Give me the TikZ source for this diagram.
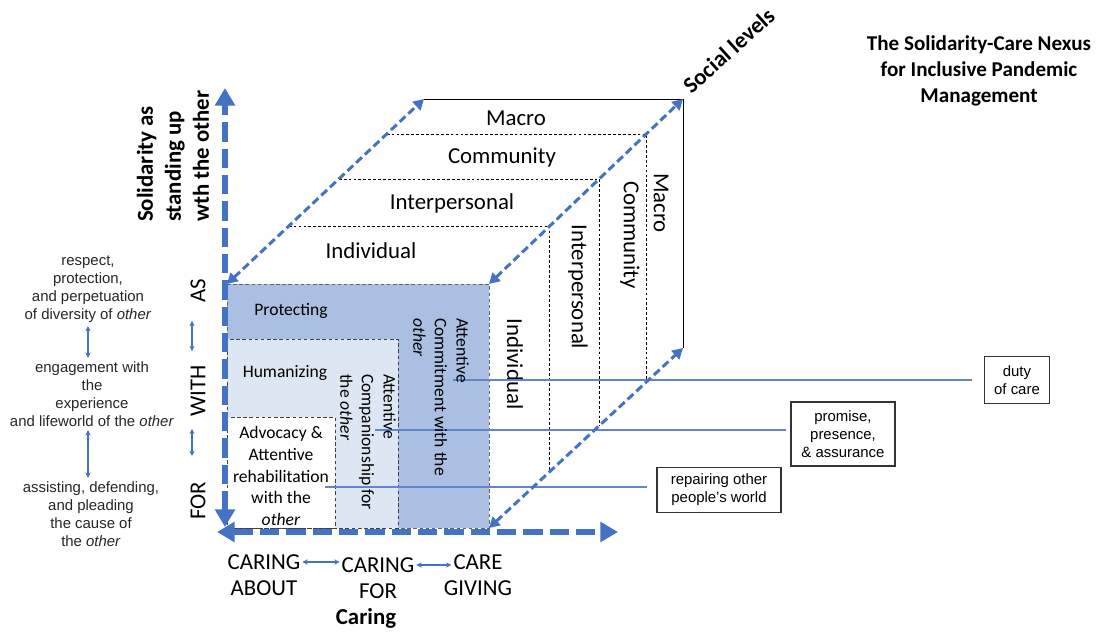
\documentclass[tikz,border=0pt]{standalone}
\usepackage{fontspec}
\setmainfont{Carlito}
\newfontfamily\arialfont{Liberation Sans}
\usetikzlibrary{arrows.meta,calc}

\definecolor{axisblue}{HTML}{4472C4}
\definecolor{darkfill}{HTML}{ABBFE2}
\definecolor{lightfill}{HTML}{DDE7F4}

\begin{document}
\begin{tikzpicture}[x=0.02cm,y=-0.02cm,
        bigaxis/.style={axisblue, line width=3.4pt, dash pattern=on 11pt off 4pt,
            {Triangle[length=10pt,width=11pt]}-{Triangle[length=10pt,width=11pt]}},
        diagaxis/.style={axisblue, line width=1.7pt, dash pattern=on 4.5pt off 2.3pt,
            {Triangle[length=6pt,width=6.5pt]}-{Triangle[length=6pt,width=6.5pt]}},
        slab/.style={black, line width=0.5pt, dash pattern=on 1.6pt off 1.2pt},
        facedash/.style={black!60, line width=0.5pt, dash pattern=on 2pt off 1.5pt},
        smallarrow/.style={axisblue, line width=0.6pt, {Stealth[length=3pt,width=3pt]}-{Stealth[length=3pt,width=3pt]}},
        callout/.style={axisblue!85, line width=0.7pt},
        callbox/.style={draw=black!80, line width=0.6pt, align=center, inner sep=1pt,
            font=\arialfont\fontsize{8.5}{10.2}\selectfont},
        level/.style={font=\fontsize{13}{15.6}\selectfont, inner sep=1pt},
        front/.style={font=\fontsize{10}{12.3}\selectfont, inner sep=1pt, align=center},
        sidenote/.style={font=\arialfont\fontsize{8.5}{10.2}\selectfont, text=black!85, align=center, inner sep=1pt},
        heading/.style={font=\bfseries\fontsize{13}{15.9}\selectfont, inner sep=1pt}
    ]
    \useasboundingbox (0,0) rectangle (1107,634);

    % cube corners
    \coordinate (ftl) at (227,284);
    \coordinate (ftr) at (489,284);
    \coordinate (fbr) at (489,528);
    \coordinate (btl) at (424,99);
    \coordinate (btr) at (683,99);
    \coordinate (bbr) at (683,348);

    % back outline (Macro) and the dashed levels in between
    \draw[black, line width=0.45pt] (btl) -- (btr) -- (bbr);
    \foreach \t in {0.3135,0.5676,0.8108}
        \draw[slab] ($(ftl)!\t!(btl)$) -- ($(ftr)!\t!(btr)$) -- ($(fbr)!\t!(bbr)$);

    % front face
    \coordinate (hum) at (227,339);
    \coordinate (comp) at (398,528);
    \coordinate (adv) at (227,417);
    \coordinate (advr) at (335,528);
    \fill[darkfill] (ftl) rectangle (fbr);
    \draw[facedash] (ftl) rectangle (fbr);
    \fill[lightfill] (hum) rectangle (comp);
    \draw[facedash, black!75] (hum) rectangle (comp);
    \fill[white] (adv) rectangle (advr);
    \draw[facedash, black!75] (adv) rectangle (advr);

    % level labels
    \node[level] (macro) at (516,118) {Macro};
    \node[level] (comm) at (502,157) {Community};
    \node[level] (inter) at (452,203) {Interpersonal};
    \node[level] (indiv) at (371,251) {Individual};
    \node[level, rotate=-90] (macrov) at (661,203) {Macro};
    \node[level, rotate=-90] (commv) at (630,235) {Community};
    \node[level, rotate=-90] (interv) at (578,287) {Interpersonal};
    \node[level, rotate=-90] (indivv) at (515,364) {Individual};

    % callout lines to the boxes
    \coordinate (c1) at (453,380);
    \coordinate (c2) at (375,430);
    \coordinate (c3) at (325,487);
    \node[callbox, minimum width=1.3cm, minimum height=0.94cm] (duty) at (1017,380) {duty\\of care};
    \node[callbox, minimum width=2.08cm, minimum height=1.28cm] (promise) at (843,434) {promise,\\presence,\\\& assurance};
    \node[callbox, minimum width=2.48cm, minimum height=0.9cm] (repair) at (719,490) {repairing other\\people’s world};
    \draw[callout, shorten >=0.24cm] (c1) -- (c1 -| duty.west);
    \draw[callout, shorten >=0.08cm] (c2) -- (c2 -| promise.west);
    \draw[callout, shorten >=0.18cm] (c3) -- (c3 -| repair.west);

    % front face texts
    \node[front] (prot) at (291,311) {Protecting};
    \node[front] (human) at (285,373) {Humanizing};
    \node[front] (advoc) at (281,476) {Advocacy \&\\Attentive\\rehabilitation\\with the\\\textit{other}};
    \node[front, align=left, rotate=-90, anchor=west] (commit) at (441,316)
        {Attentive\\Commitment with the\\\textit{other}};
    \node[front, align=left, rotate=-90, anchor=west] (compan) at (368,372)
        {Attentive\\Companionship for\\the \textit{other}};

    % diagonal axes (social levels)
    \draw[diagaxis] (ftl) -- (btl);
    \draw[diagaxis] (ftr) -- (btr);
    \draw[diagaxis] (fbr) -- (bbr);
    \node[heading, rotate=42, anchor=base west] (social) at (690,96) {Social levels};

    % main axes
    \coordinate (vtop) at (225,88);
    \coordinate (vbot) at (225,527);
    \coordinate (hleft) at (217,532);
    \coordinate (hright) at (618,532);
    \draw[bigaxis] (vbot) -- (vtop);
    \draw[bigaxis] (hleft) -- (hright);

    % solidarity axis
    \node[heading, rotate=90, align=left, anchor=west] (solid) at (173,224)
        {Solidarity as\\standing up\\wth the other};
    \node[level, rotate=90] (as) at (198,291) {AS};
    \node[level, rotate=90] (with) at (198,391) {WITH};
    \node[level, rotate=90] (for) at (198,501) {FOR};
    \draw[smallarrow] ($(as.west)+(-6,16)$) -- ($(with.east)+(-6,-12)$);
    \draw[smallarrow] ($(with.west)+(-6,10)$) -- ($(for.east)+(-6,-24)$);

    \node[sidenote] (respect) at (88,289) {respect,\\protection,\\and perpetuation\\of diversity of \textit{other}};
    \node[sidenote] (engage) at (92,394) {engagement with\\the\\experience\\and lifeworld of the \textit{other}};
    \node[sidenote] (assist) at (91,514) {assisting, defending,\\and pleading\\the cause of\\the \textit{other}};
    \draw[smallarrow, shorten <=1pt, shorten >=1pt] (respect.south) -- (respect.south |- engage.north);
    \draw[smallarrow, shorten <=1pt, shorten >=1pt] (engage.south -| respect.south) -- (respect.south |- assist.north);

    % caring axis
    \node[level] (ab1) at (264,562) {CARING};
    \node[level] (ab2) at (264,588) {ABOUT};
    \node[level] (fo1) at (378,565) {CARING};
    \node[level] (fo2) at (378,591) {FOR};
    \node[level] (gi1) at (478,562) {CARE};
    \node[level] (gi2) at (478,588) {GIVING};
    \draw[smallarrow] (ab1.east) -- (ab1.east -| fo1.west);
    \draw[smallarrow] (fo1.east) -- (fo1.east -| gi1.west);
    \node[heading] (caring) at (366,618) {Caring};

    % title
    \node[heading, font=\bfseries\fontsize{12}{15}\selectfont, align=center] (title) at (979,71)
        {The Solidarity-Care Nexus\\for Inclusive Pandemic\\Management};
\end{tikzpicture}
\end{document}
